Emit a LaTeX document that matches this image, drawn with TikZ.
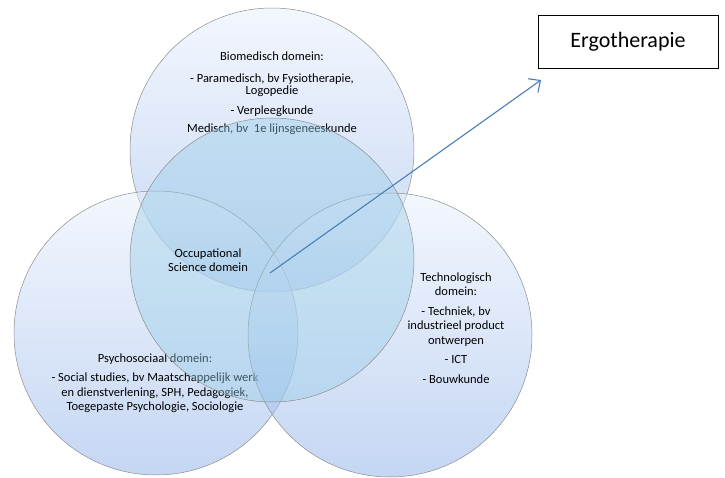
\documentclass[tikz,border=0pt]{standalone}
\usepackage{fontspec}
\setmainfont{Carlito}
\usetikzlibrary{arrows.meta}
\definecolor{ringtop}{HTML}{E8EFFD}
\definecolor{ringbot}{HTML}{8FB1E8}
\definecolor{ringmid}{HTML}{96CCE6}
\definecolor{ringline}{HTML}{8C8C8C}
\definecolor{arrowblue}{HTML}{4A7EBB}
\begin{document}
\begin{tikzpicture}[x=1pt, y=-1pt, line width=0.6pt,
  ring/.style={top color=ringtop, bottom color=ringbot, fill opacity=0.52},
  midring/.style={fill=ringmid, fill opacity=0.42},
  rim/.style={draw=ringline, line width=0.5pt},
  domtext/.style={font=\fontsize{12.5}{14.5}\selectfont, align=center, inner sep=0pt},
  ergobox/.style={draw=black, line width=0.9pt, minimum width=180pt, minimum height=53pt, font=\fontsize{22}{26}\selectfont},
  arr/.style={draw=arrowblue, line width=1.1pt, -{Straight Barb[length=9pt, width=17pt]}}]
  \useasboundingbox (0,0) rectangle (725,478);
  \path[ring] (272,150) circle (142pt);
  \path[rim] (272,150) circle (142pt);
  \node[domtext, font=\fontsize{12.5}{11.5}\selectfont] (bio) at (272,93.5) {Biomedisch domein:\\[10.5pt]- Paramedisch, bv Fysiotherapie,\\Logopedie\\[8.5pt]- Verpleegkunde\\[7pt]Medisch, bv\ \ 1e lijnsgeneeskunde};
  \path[ring] (156,333) circle (142pt);
  \path[rim] (156,333) circle (142pt);
  \node[domtext] (psy) at (155,383) {Psychosociaal domein:\\[5pt]- Social studies, bv Maatschappelijk werk\\en dienstverlening, SPH, Pedagogiek,\\Toegepaste Psychologie, Sociologie};
  \path[ring] (390,335) circle (142pt);
  \path[rim] (390,335) circle (142pt);
  \node[domtext] (tech) at (456,328) {Technologisch\\domein:\\[5pt]- Techniek, bv\\industrieel product\\ontwerpen\\[5pt]- ICT\\[5pt]- Bouwkunde};
  \path[midring] (272,260) circle (142pt);
  \path[rim] (272,260) circle (142pt);
  \node[domtext] (occ) at (208,260) {Occupational\\Science domein};
  \node[ergobox] (ergo) at (628,41.5) {Ergotherapie};
  \coordinate (from) at (270,273);
  \coordinate (tip) at (541,80);
  \draw[arr] (from) -- (tip);
\end{tikzpicture}
\end{document}
